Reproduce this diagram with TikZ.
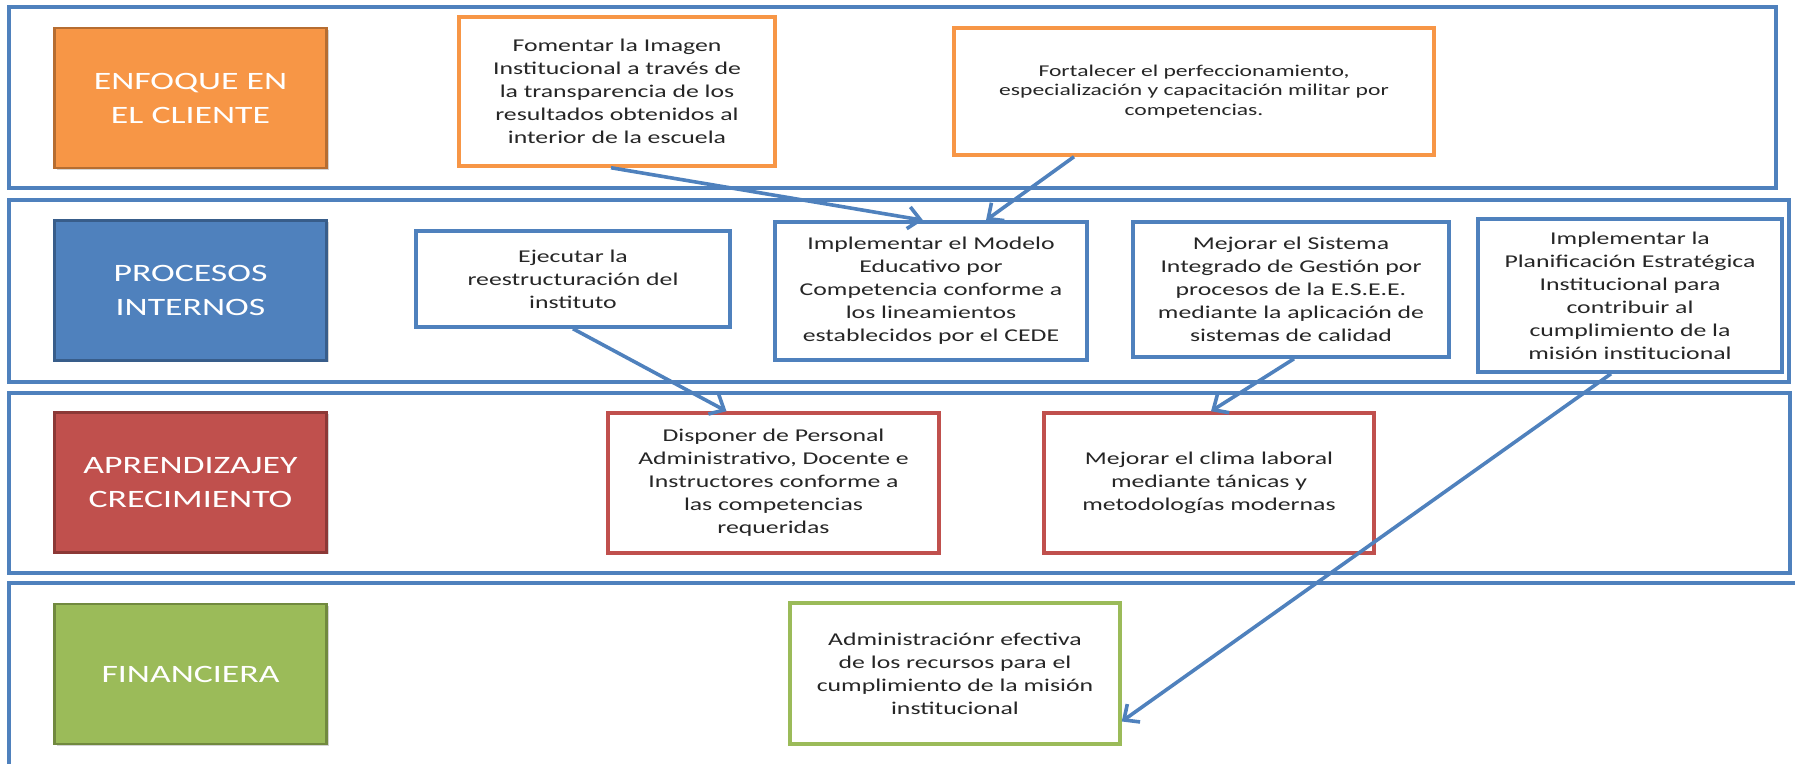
\documentclass[tikz,border=0pt]{standalone}
\usepackage{fontspec}
\setmainfont{Carlito}[FakeStretch=1.43]
\usetikzlibrary{arrows.meta,shadows}
\definecolor{naranja}{HTML}{F79646}
\definecolor{naranjaosc}{HTML}{B66D31}
\definecolor{azul}{HTML}{4F81BD}
\definecolor{azulosc}{HTML}{385D8A}
\definecolor{rojo}{HTML}{C0504D}
\definecolor{rojoosc}{HTML}{8C3836}
\definecolor{verde}{HTML}{9BBB59}
\definecolor{verdeosc}{HTML}{71893F}
\begin{document}
\begin{tikzpicture}[x=1pt, y=1pt,
      fila/.style={draw=azul, line width=3.5pt},
      categoria/.style={draw=#1osc, fill=#1, line width=2.5pt, inner sep=2pt,
        minimum width=272pt, minimum height=140pt, text=white, align=center,
        font=\fontsize{25}{34}\selectfont,
        drop shadow={shadow xshift=2pt, shadow yshift=-2pt, opacity=0.35}},
      objetivo/.style={draw=#1, fill=white, line width=3.5pt, inner sep=2pt,
        align=center, text=black!85, font=\fontsize{18}{23}\selectfont},
      flecha/.style={draw=azul, line width=3.6pt, -{Straight Barb[length=12pt, width=22pt]}},]
    \useasboundingbox (0,0) rectangle (1795,763);
    % filas de perspectivas
    \draw[fila] (9,756) rectangle (1776,575);
    \draw[fila] (9,563) rectangle (1789,381);
    \draw[fila] (9,370) rectangle (1790,190);
    \draw[fila] (9,180) rectangle (1802,-14);
    % perspectivas
    \node[categoria=naranja] (enfoque) at (190.5,665) {ENFOQUE EN\\EL CLIENTE};
    \node[categoria=azul] (procesos) at (190.5,472.5) {PROCESOS\\INTERNOS};
    \node[categoria=rojo] (aprendizaje) at (190.5,280.5) {APRENDIZAJEY\\CRECIMIENTO};
    \node[categoria=verde] (financiera) at (190.5,89) {FINANCIERA};
    % objetivos
    \node[objetivo=naranja, minimum width=316pt, minimum height=149pt] (fomentar) at (617,671.5)
      {Fomentar la Imagen\\Institucional a través de\\la transparencia de los\\resultados obtenidos al\\interior de la escuela};
    \node[objetivo=naranja, font=\fontsize{16.5}{19.5}\selectfont, minimum width=480pt, minimum height=127pt] (fortalecer) at (1194,671.5)
      {Fortalecer el perfeccionamiento,\\especialización y capacitación militar por\\competencias.};
    \node[objetivo=azul, minimum width=314pt, minimum height=96pt] (ejecutar) at (573,484)
      {Ejecutar la\\reestructuración del\\instituto};
    \node[objetivo=azul, minimum width=312pt, minimum height=138pt] (modelo) at (931,472)
      {Implementar el Modelo\\Educativo por\\Competencia conforme a\\los lineamientos\\establecidos por el CEDE};
    \node[objetivo=azul, minimum width=316pt, minimum height=135pt] (sistema) at (1291,473.5)
      {Mejorar el Sistema\\Integrado de Gestión por\\procesos de la E.S.E.E.\\mediante la aplicación de\\sistemas de calidad};
    \node[objetivo=azul, minimum width=304pt, minimum height=153pt] (planificacion) at (1630,467.5)
      {Implementar la\\Planificación Estratégica\\Institucional para\\contribuir al\\cumplimiento de la\\misión institucional};
    \node[objetivo=rojo, minimum width=331pt, minimum height=140pt] (disponer) at (773.5,280)
      {Disponer de Personal\\Administrativo, Docente e\\Instructores conforme a\\las competencias\\requeridas};
    \node[objetivo=rojo, minimum width=330pt, minimum height=140pt] (clima) at (1209,280)
      {Mejorar el clima laboral\\mediante tánicas y\\metodologías modernas};
    \node[objetivo=verde, minimum width=330pt, minimum height=141pt] (administracion) at (955,89.5)
      {Administraciónr efectiva\\de los recursos para el\\cumplimiento de la misión\\institucional};
    % relaciones causa-efecto
    \draw[flecha] ([xshift=-6pt]fomentar.south) -- ([xshift=-8pt]modelo.north);
    \draw[flecha] ([xshift=-120pt]fortalecer.south) -- ([xshift=55pt]modelo.north);
    \draw[flecha] (ejecutar.south) -- ([xshift=-47pt]disponer.north);
    \draw[flecha] ([xshift=3pt]sistema.south) -- ([xshift=2pt]clima.north);
    \draw[flecha] ([xshift=-19pt]planificacion.south) -- ([yshift=-48pt]administracion.east);
\end{tikzpicture}
\end{document}
